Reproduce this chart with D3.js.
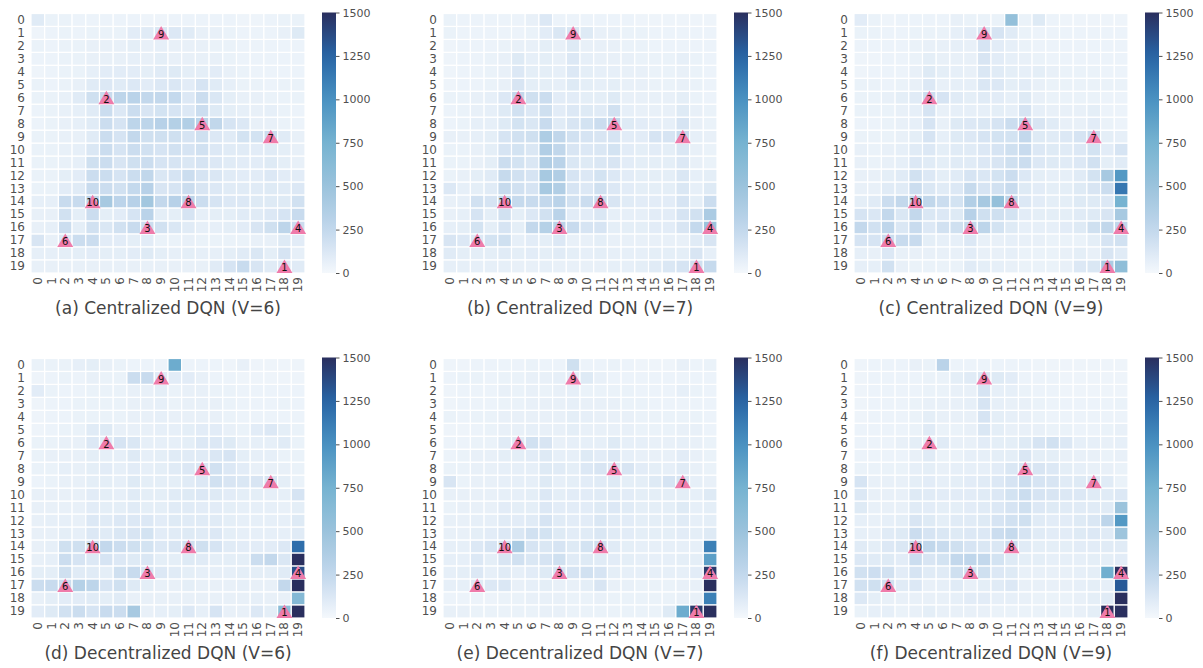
<!DOCTYPE html>
<html>
<head>
<meta charset="utf-8">
<script src="https://cdn.jsdelivr.net/npm/d3@7/dist/d3.min.js"></script>
<style>
body { margin: 0; background: #fff; }
text { font-family: "DejaVu Sans", sans-serif; }
</style>
</head>
<body>
<div class="chart"></div>
<script>
// grid index 0..19 used for both rows and columns
const gridLabels = [0,1,2,3,4,5,6,7,8,9,10,11,12,13,14,15,16,17,18,19];
const cbarTicks = [0, 250, 500, 750, 1000, 1250, 1500];
const captions = [
  "(a) Centralized DQN (V=6)", "(b) Centralized DQN (V=7)", "(c) Centralized DQN (V=9)",
  "(d) Decentralized DQN (V=6)", "(e) Decentralized DQN (V=7)", "(f) Decentralized DQN (V=9)"
];

// node markers (same in every panel)
const nodeIds  = [9, 2, 5, 7, 10, 8, 3, 4, 6, 1];
const nodeCols = [9, 5, 12, 17, 4, 11, 8, 19, 2, 18];
const nodeRows = [1, 6, 8, 9, 14, 14, 16, 16, 17, 19];

// visit counts, rows 0..19 top to bottom
const centralV6 = [
  [100,50,50,40,40,40,40,40,30,30,40,40,40,40,40,30,30,40,50,50],
  [30,40,50,40,50,50,50,90,100,130,120,100,60,60,50,40,40,40,60,110],
  [50,40,50,50,60,60,60,80,60,70,60,60,60,50,50,40,40,40,40,40],
  [40,40,50,50,60,60,60,70,60,80,60,60,60,60,50,40,40,40,40,40],
  [30,40,50,50,70,90,90,90,80,100,110,80,80,90,60,50,40,40,40,40],
  [50,40,50,60,100,120,100,120,90,120,130,90,150,100,70,50,50,40,50,50],
  [50,50,60,100,180,220,280,300,250,250,240,120,200,130,80,60,60,50,50,50],
  [40,50,60,70,100,200,120,200,140,160,150,120,200,110,80,70,60,70,50,40],
  [40,50,60,70,100,200,150,280,280,320,340,350,300,260,150,120,60,60,50,40],
  [50,50,60,60,100,200,150,250,180,180,180,150,180,120,100,160,160,200,100,60],
  [50,50,60,70,130,200,150,200,170,150,170,150,170,120,100,100,90,100,80,60],
  [50,50,60,70,180,200,140,180,200,150,150,130,150,120,100,90,90,110,80,60],
  [50,50,80,90,200,200,150,200,260,130,150,200,150,130,100,90,90,120,90,90],
  [50,50,90,100,220,200,170,240,320,140,150,200,140,120,100,100,100,110,100,120],
  [70,70,220,220,280,420,290,320,450,250,320,300,200,150,120,120,110,110,110,170],
  [60,60,170,80,200,80,90,150,300,80,80,150,70,80,80,100,100,120,150,220],
  [60,70,200,80,170,130,170,220,200,170,130,100,70,70,80,90,140,180,280,200],
  [140,60,120,200,200,90,90,80,90,50,50,60,50,50,50,50,60,60,110,90],
  [70,70,80,80,90,80,80,90,110,80,70,80,70,70,80,100,130,80,150,70],
  [60,60,60,60,60,60,60,60,60,60,60,60,60,100,150,220,140,100,120,100]
];
const centralV7 = [
  [50,40,40,40,40,40,60,120,40,40,40,40,40,40,30,30,30,30,30,30],
  [50,40,40,40,40,40,50,90,130,140,110,60,60,50,50,40,40,40,40,40],
  [30,40,40,40,50,60,60,80,60,110,60,60,60,50,50,40,40,40,40,40],
  [30,40,40,50,60,110,70,80,60,120,70,60,60,60,50,50,50,70,50,40],
  [30,40,40,50,60,120,80,80,70,120,80,70,70,60,60,50,50,60,50,40],
  [30,40,40,50,60,140,80,80,70,110,80,70,80,60,60,50,50,60,50,40],
  [50,50,60,70,120,250,180,200,90,90,80,80,110,60,60,60,60,80,50,40],
  [40,50,60,70,110,170,120,180,90,120,110,100,170,70,60,60,60,110,60,50],
  [40,50,70,70,110,160,130,220,100,140,160,200,250,110,90,70,70,150,60,50],
  [60,60,70,80,150,170,180,380,260,170,150,140,150,90,90,150,150,220,70,60],
  [50,50,60,80,150,160,130,360,260,140,120,130,160,90,80,90,80,130,60,50],
  [50,50,60,80,200,160,130,360,300,130,110,130,140,90,80,80,80,120,60,50],
  [50,60,80,100,230,170,150,420,360,150,120,160,120,90,80,80,80,130,70,80],
  [120,70,80,100,230,170,150,420,360,150,120,180,120,90,80,80,80,130,70,110],
  [60,70,170,150,250,230,220,250,300,170,200,220,140,100,90,90,90,150,80,200],
  [60,70,150,80,170,80,120,170,300,90,90,130,70,70,70,90,90,150,170,400],
  [70,80,160,80,150,80,250,330,300,220,150,150,80,80,80,90,90,140,240,500],
  [140,120,120,160,180,70,90,80,120,60,60,80,60,60,60,60,60,60,100,140],
  [100,80,80,80,100,80,90,80,100,80,70,80,70,70,70,80,80,80,140,70],
  [70,70,70,70,70,60,60,70,60,60,60,60,70,70,80,100,130,150,180,230]
];
const centralV9 = [
  [90,50,30,40,40,40,40,60,50,50,50,550,50,110,40,30,30,30,30,30],
  [50,50,40,40,50,50,50,70,90,150,150,100,50,40,40,40,40,40,40,40],
  [40,40,40,40,50,60,60,70,60,150,90,70,50,40,40,40,40,40,40,40],
  [30,30,40,40,50,80,60,60,60,140,90,70,60,50,40,40,40,40,40,40],
  [30,40,40,40,60,110,80,70,60,130,100,80,70,80,60,50,50,50,40,40],
  [50,50,40,50,60,120,60,70,70,130,120,80,90,60,50,50,50,50,50,50],
  [50,50,60,80,100,200,150,100,80,100,90,70,110,60,50,50,50,50,40,40],
  [50,50,50,60,70,150,60,70,70,70,80,70,150,70,60,60,60,80,40,40],
  [40,40,50,60,70,150,60,110,120,130,150,200,250,140,100,60,60,90,50,40],
  [50,50,50,60,80,150,70,110,120,150,160,160,250,110,100,120,150,200,80,70],
  [60,50,60,70,100,120,80,100,100,120,150,180,220,120,110,100,120,160,90,150],
  [60,50,60,70,120,100,80,100,100,120,140,180,200,120,110,100,120,170,80,100],
  [60,60,80,100,170,120,80,100,150,130,160,200,120,80,70,70,100,160,420,950],
  [60,60,100,100,200,130,100,120,230,150,170,220,110,90,80,80,110,140,200,1150],
  [80,100,200,250,280,260,200,160,350,420,550,300,120,90,80,80,110,110,120,750],
  [150,130,250,130,250,130,120,110,320,180,180,160,90,80,80,80,100,110,140,420],
  [250,170,270,130,220,120,170,180,250,280,160,110,70,70,70,90,110,180,260,260],
  [150,150,200,220,220,80,70,70,120,60,60,70,60,60,50,50,50,80,150,170],
  [70,60,120,60,60,60,60,60,90,60,60,70,50,50,50,60,80,60,140,100],
  [70,70,170,60,50,50,50,50,100,80,70,60,50,50,50,60,120,130,400,580]
];
const decentV6 = [
  [50,50,50,70,80,60,50,40,40,40,800,40,40,40,30,60,30,30,30,30],
  [30,40,50,40,60,50,50,200,220,100,90,90,60,40,40,30,30,30,30,30],
  [90,50,40,40,50,50,50,60,60,80,50,60,60,50,50,40,40,40,40,40],
  [30,40,40,50,50,50,50,60,60,70,50,60,60,60,50,40,40,40,50,40],
  [30,40,40,50,50,50,50,60,60,70,60,60,60,60,50,40,40,40,40,40],
  [30,40,50,50,100,110,60,60,60,70,70,80,90,90,60,50,90,120,80,50],
  [50,50,60,60,120,100,150,130,70,70,70,80,120,120,110,60,70,70,100,50],
  [50,60,60,60,80,70,70,110,70,80,100,100,100,130,150,80,70,70,50,50],
  [50,50,70,60,80,90,70,90,70,80,100,120,130,170,120,90,60,60,60,50],
  [40,50,60,60,80,80,70,110,80,80,80,100,120,170,140,130,140,140,80,50],
  [60,60,60,60,90,80,70,100,80,80,100,110,120,110,90,80,80,70,70,150],
  [60,60,60,60,90,80,80,100,80,80,100,100,90,90,80,70,70,70,60,80],
  [60,70,70,60,120,100,120,120,120,90,110,100,100,100,80,70,70,70,70,110],
  [60,60,80,70,120,100,130,140,160,90,100,110,100,120,80,70,70,70,70,100],
  [60,70,180,180,180,250,200,180,160,120,140,180,180,150,100,90,90,90,120,1200],
  [60,70,200,150,120,150,120,110,130,80,80,110,100,80,80,80,200,250,130,1500],
  [80,80,180,100,100,80,180,220,150,120,100,80,70,70,70,80,80,80,100,1350],
  [200,220,200,330,280,150,180,110,80,60,60,80,60,60,60,70,60,60,250,1500],
  [60,80,90,90,100,80,100,60,60,60,60,60,60,60,60,60,70,60,60,650],
  [90,110,170,200,150,220,200,420,60,70,80,120,70,150,60,60,120,80,600,1500]
];
const decentV7 = [
  [30,30,40,40,40,40,50,40,40,180,40,40,50,40,30,30,30,60,40,50],
  [40,50,50,40,50,50,60,60,70,90,110,60,40,40,40,40,40,40,40,40],
  [30,40,40,40,60,50,60,50,60,70,50,50,50,50,40,40,40,70,50,40],
  [30,40,40,40,50,50,60,60,60,70,60,60,60,50,50,40,40,40,40,40],
  [50,40,50,50,60,60,60,60,60,80,70,60,60,60,50,50,50,50,50,40],
  [30,30,40,50,60,60,70,60,60,80,60,60,60,60,50,50,50,60,60,40],
  [40,40,50,50,100,100,170,140,60,70,70,70,110,70,70,60,60,70,60,50],
  [40,50,60,60,80,80,90,110,70,70,110,90,120,70,60,60,60,90,60,50],
  [50,50,60,60,70,70,70,110,100,80,120,140,120,140,90,80,70,100,60,50],
  [140,50,60,60,70,70,70,110,70,80,90,100,110,80,80,110,150,150,70,60],
  [60,60,60,60,70,70,80,120,80,90,90,100,110,90,80,80,80,80,70,110],
  [50,60,60,60,90,80,80,120,90,90,90,110,120,100,80,80,80,110,70,80],
  [60,60,70,70,100,90,100,150,100,90,90,130,100,90,80,80,80,100,70,80],
  [60,60,80,90,120,130,170,160,110,90,100,130,100,90,80,80,80,90,80,110],
  [70,70,120,150,150,400,150,130,150,110,160,180,100,80,70,70,70,70,70,1100],
  [70,70,120,80,140,170,130,150,180,100,110,100,90,80,70,70,70,80,80,900],
  [70,80,120,70,100,70,90,110,150,150,170,150,80,70,70,70,70,70,90,1450],
  [70,70,100,120,130,60,70,80,60,60,80,140,60,60,50,50,50,60,60,1500],
  [40,40,40,40,50,50,60,60,60,50,50,60,50,50,50,50,50,60,60,1100],
  [60,60,50,50,50,50,50,60,60,50,50,50,50,50,50,50,110,800,1450,1500]
];
const decentV9 = [
  [30,40,40,40,60,50,300,40,40,40,40,40,40,30,30,30,30,30,30,30],
  [30,40,40,40,40,50,50,80,100,130,110,90,40,40,40,30,30,30,30,30],
  [30,40,40,40,40,50,50,60,60,150,70,70,50,40,40,30,30,30,30,30],
  [30,40,40,40,50,60,60,60,70,150,70,60,60,50,40,40,40,40,40,50],
  [30,40,40,40,50,80,60,60,60,150,80,70,60,50,40,40,40,40,40,40],
  [40,40,40,40,50,100,50,50,60,130,80,60,60,60,50,50,40,40,50,60],
  [40,40,40,60,80,70,100,60,60,90,80,80,110,150,170,120,70,70,60,70],
  [40,40,40,40,60,100,50,50,70,70,80,80,130,80,80,60,60,60,50,60],
  [50,50,50,50,70,80,60,70,70,70,90,130,150,140,120,80,70,60,60,50],
  [150,60,60,60,80,90,70,80,90,100,120,150,200,150,140,100,110,120,100,50],
  [120,60,60,60,110,100,90,90,90,100,120,160,200,150,140,120,120,100,100,120],
  [110,60,60,60,100,90,80,80,90,100,120,150,180,120,110,100,100,100,100,500],
  [70,60,70,80,140,110,80,100,100,110,150,170,180,100,90,90,110,130,280,950],
  [70,60,100,110,200,150,130,110,120,120,200,230,150,100,90,90,110,120,100,480],
  [100,80,120,130,230,260,220,180,150,130,130,200,100,80,80,80,90,90,100,100],
  [120,100,110,90,200,140,160,250,270,250,160,110,80,80,70,70,70,80,80,90],
  [170,190,170,90,150,100,100,180,180,180,120,110,60,60,60,60,70,80,780,1500],
  [170,180,170,100,120,60,70,100,60,80,100,120,60,60,60,60,70,80,70,1300],
  [120,80,60,60,60,60,60,70,90,90,70,70,60,50,50,50,60,80,100,1500],
  [50,70,70,50,60,80,60,60,60,60,50,50,50,50,50,50,60,80,1500,1500]
];

const panels = [centralV6, centralV7, centralV9, decentV6, decentV7, decentV9];

const W = 1203, H = 668;
const mapW = 274, mapH = 259.5;
const panelX = [31, 443, 854];
const panelY = [13.5, 358.5];

const color = d3.scaleLinear()
    .domain([0, 100, 200, 300, 500, 750, 1000, 1250, 1500])
    .range(["#f4f8fc", "#e0ebf6", "#cbddef", "#bad3e9", "#9bc3dc", "#76b3d1", "#4a92c1", "#2865a6", "#2a2f5e"])
    .interpolate(d3.interpolateRgb)
    .clamp(true);

const svg = d3.select(".chart").append("svg")
    .attr("width", W)
    .attr("height", H);

svg.append("rect").attr("width", W).attr("height", H).attr("fill", "#fff");

const defs = svg.append("defs");
const grad = defs.append("linearGradient")
    .attr("id", "cbar")
    .attr("x1", 0).attr("y1", 1).attr("x2", 0).attr("y2", 0);
d3.range(0, 1.0001, 0.05).forEach(t => {
  grad.append("stop").attr("offset", t).attr("stop-color", color(t * 1500));
});

const x = d3.scaleBand().domain(gridLabels).range([0, mapW]);
const y = d3.scaleBand().domain(gridLabels).range([0, mapH]);

panels.forEach((data, i) => {
  const g = svg.append("g")
      .attr("transform", `translate(${panelX[i % 3]},${panelY[Math.floor(i / 3)]})`);

  const cells = [];
  data.forEach((row, r) => row.forEach((v, c) => cells.push({r, c, v})));

  g.append("g").selectAll("rect")
    .data(cells)
    .enter()
    .append("rect")
    .attr("x", d => x(d.c))
    .attr("y", d => y(d.r))
    .attr("width", x.bandwidth())
    .attr("height", y.bandwidth())
    .attr("fill", d => color(d.v))
    .attr("stroke", "#fff")
    .attr("stroke-width", 1.2);

  // axes
  g.append("g")
    .call(d3.axisLeft(y).tickSize(0).tickPadding(6))
    .call(a => a.select(".domain").remove())
    .selectAll("text")
    .attr("font-size", 12)
    .attr("fill", "#505050")
    .attr("font-family", "DejaVu Sans");

  g.append("g")
    .attr("transform", `translate(0,${mapH})`)
    .call(d3.axisBottom(x).tickSize(0).tickPadding(0))
    .call(a => a.select(".domain").remove())
    .selectAll("text")
    .attr("font-size", 12)
    .attr("fill", "#505050")
    .attr("font-family", "DejaVu Sans")
    .attr("text-anchor", "end")
    .attr("dy", null)
    .attr("y", 0)
    .attr("transform", "translate(0,4) rotate(-90)")
    .attr("dominant-baseline", "central");

  // node markers
  const nodes = g.append("g").selectAll("g")
    .data(nodeIds.map((id, k) => ({id, c: nodeCols[k], r: nodeRows[k]})))
    .enter()
    .append("g")
    .attr("transform", d => `translate(${x(d.c) + x.bandwidth() / 2},${y(d.r) + y.bandwidth() / 2})`);

  nodes.append("path")
    .attr("d", "M0,-7L8,6.5L-8,6.5Z")
    .attr("fill", "#ef7baa");

  nodes.append("text")
    .attr("text-anchor", "middle")
    .attr("dy", "0.38em")
    .attr("y", 1)
    .attr("font-size", 10)
    .attr("fill", "#111")
    .text(d => d.id);

  // colorbar
  const cb = g.append("g").attr("transform", `translate(291,-1)`);
  cb.append("rect")
    .attr("width", 14)
    .attr("height", mapH + 1)
    .attr("fill", "url(#cbar)");
  const cy = d3.scaleLinear().domain([0, 1500]).range([mapH + 1, 0]);
  cb.append("g")
    .attr("transform", "translate(14,0)")
    .call(d3.axisRight(cy).tickValues(cbarTicks).tickFormat(d3.format("d")).tickSize(3.5).tickPadding(3))
    .call(a => a.select(".domain").remove())
    .call(a => a.selectAll("line").attr("stroke", "#505050"))
    .selectAll("text")
    .attr("font-size", 11)
    .attr("fill", "#505050")
    .attr("font-family", "DejaVu Sans");

  // caption
  g.append("text")
    .attr("x", mapW / 2)
    .attr("y", 300.5)
    .attr("text-anchor", "middle")
    .attr("font-size", 17)
    .attr("fill", "#444")
    .text(captions[i]);
});
</script>
</body>
</html>
